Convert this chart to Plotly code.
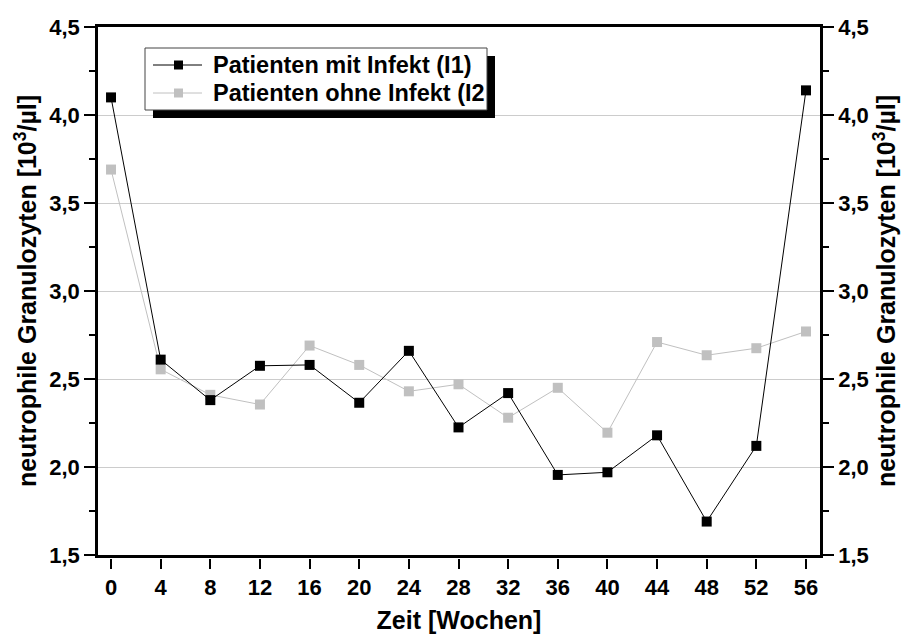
import plotly.graph_objects as go

# Untersuchungszeitpunkte (Wochen) und Mittelwerte der neutrophilen Granulozyten
wochen = [0, 4, 8, 12, 16, 20, 24, 28, 32, 36, 40, 44, 48, 52, 56]
mit_infekt = [4.10, 2.61, 2.38, 2.575, 2.58, 2.365, 2.66, 2.225, 2.42, 1.955, 1.97, 2.18, 1.69, 2.12, 4.14]
ohne_infekt = [3.69, 2.555, 2.41, 2.355, 2.69, 2.58, 2.43, 2.47, 2.28, 2.45, 2.195, 2.71, 2.635, 2.675, 2.77]
serien_namen = ["Patienten mit Infekt (I1)", "Patienten ohne Infekt (I2"]
y_ticks = [1.5, 2.0, 2.5, 3.0, 3.5, 4.0, 4.5]

W, H = 915, 634
L, R, T, B = 98, 820, 27, 558   # Zeichenfläche in Pixeln (B = Unterkante der Tick-Achse)
X_RANGE = [-1.05, 57.13]
Y_RANGE = [1.5, 4.5]

FONT = "Liberation Sans"
SCHWARZ = "#000000"
GRAU = "#c0c0c0"


def px_x(p):
    return (p - L) / (R - L)


def px_y(p):
    return (B - p) / (B - T)


fig = go.Figure()
fig.add_trace(go.Scatter(
    x=wochen, y=ohne_infekt, mode="lines+markers", name=serien_namen[1],
    line=dict(color=GRAU, width=1),
    marker=dict(symbol="square", size=10, color=GRAU),
    showlegend=False,
))
fig.add_trace(go.Scatter(
    x=wochen, y=mit_infekt, mode="lines+markers", name=serien_namen[0],
    line=dict(color=SCHWARZ, width=1),
    marker=dict(symbol="square", size=10, color=SCHWARZ),
    showlegend=False,
))
# unsichtbare Spur, damit die rechte Achse existiert
fig.add_trace(go.Scatter(x=[wochen[0]], y=[mit_infekt[0]], yaxis="y2", xaxis="x",
                         mode="markers", marker=dict(opacity=0), showlegend=False,
                         hoverinfo="skip"))
# unsichtbare Spur für die untere Beschriftungsachse
fig.add_trace(go.Scatter(x=[wochen[0]], y=[mit_infekt[0]], xaxis="x2", yaxis="y",
                         mode="markers", marker=dict(opacity=0), showlegend=False,
                         hoverinfo="skip"))

ytitle = "neutrophile Granulozyten [10<sup>3</sup>/µl]"
tickfont = dict(family=FONT, size=22, color="black", weight="bold")
titlefont = dict(family=FONT, size=25, color="black", weight="bold")
minor_ticks = dict(ticks="outside", ticklen=6, tickwidth=2, tickcolor="black", dtick=0.25, showgrid=False)

fig.update_layout(
    width=W, height=H,
    margin=dict(l=L, r=W - R, t=T, b=H - B),
    paper_bgcolor="white", plot_bgcolor="white",
    separators=",.",
    xaxis=dict(
        range=X_RANGE, domain=[0, 1], anchor="y", automargin=False,
        showline=True, mirror=True, linecolor="black", linewidth=2.5,
        ticks="", showticklabels=False, showgrid=False, zeroline=False,
    ),
    xaxis2=dict(
        range=X_RANGE, overlaying="x", anchor="free", position=0, automargin=False,
        showline=False, ticks="outside", ticklen=10, tickwidth=2, tickcolor="black",
        tickvals=wochen, ticktext=[str(w) for w in wochen],
        tickfont=tickfont,
        showgrid=False, zeroline=False,
        title=dict(text="Zeit [Wochen]", font=titlefont, standoff=14),
    ),
    yaxis=dict(
        range=Y_RANGE, domain=[3 / (B - T), 1], anchor="x", automargin=False,
        showline=True, linecolor="black", linewidth=2.5,
        ticks="outside", ticklen=11, tickwidth=2, tickcolor="black",
        tickvals=y_ticks, tickformat=".1f", tickfont=tickfont,
        minor=minor_ticks,
        showgrid=True, gridcolor="#cccccc", gridwidth=1, zeroline=False,
        title=dict(text=ytitle, font=titlefont, standoff=6),
    ),
    yaxis2=dict(
        range=Y_RANGE, overlaying="y", side="right", anchor="x", automargin=False,
        showline=True, linecolor="black", linewidth=2.5,
        ticks="outside", ticklen=11, tickwidth=2, tickcolor="black",
        tickvals=y_ticks, tickformat=".1f", tickfont=tickfont,
        minor=minor_ticks,
        showgrid=False, zeroline=False,
        title=dict(text=ytitle, font=titlefont, standoff=8),
    ),
)

# Legende mit Schatten
box = (145, 48, 487, 110)
off = 8
shapes = [
    dict(type="rect", xref="paper", yref="paper", layer="above",
         x0=px_x(box[0] + off), x1=px_x(box[2] + off), y0=px_y(box[3] + off), y1=px_y(box[1] + off),
         fillcolor="black", line=dict(width=0)),
    dict(type="rect", xref="paper", yref="paper", layer="above",
         x0=px_x(box[0]), x1=px_x(box[2]), y0=px_y(box[3]), y1=px_y(box[1]),
         fillcolor="white", line=dict(color="#444444", width=1)),
]
zeilen = [(65, SCHWARZ), (93, GRAU)]
for (yy, col), name in zip(zeilen, serien_namen):
    shapes.append(dict(type="line", xref="paper", yref="paper", layer="above",
                       x0=px_x(153), x1=px_x(202), y0=px_y(yy), y1=px_y(yy),
                       line=dict(color=col, width=1)))
    shapes.append(dict(type="rect", xref="paper", yref="paper", layer="above",
                       x0=px_x(174), x1=px_x(183), y0=px_y(yy + 4.5), y1=px_y(yy - 4.5),
                       fillcolor=col, line=dict(width=0)))
    fig.add_annotation(x=px_x(211), y=px_y(yy), xref="paper", yref="paper",
                       xanchor="left", yanchor="middle", showarrow=False,
                       text=name, font=dict(family=FONT, size=23.5, color="black", weight="bold"))
fig.update_layout(shapes=shapes)

fig.write_html("out.html")
